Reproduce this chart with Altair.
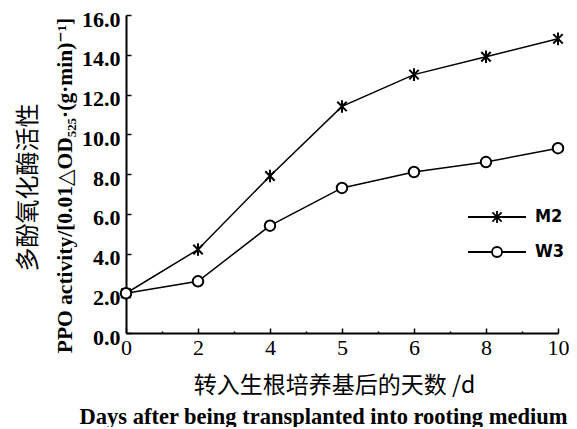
import json
import altair as alt
import pandas as pd

# ---- data ----
days = [0, 2, 4, 5, 6, 8, 10]
series_names = ["M2", "W3"]
m2_values = [2.0, 4.2, 7.9, 11.4, 13.0, 13.9, 14.8]
w3_values = [2.0, 2.6, 5.4, 7.3, 8.1, 8.6, 9.3]
y_tick_values = [0, 2, 4, 6, 8, 10, 12, 14, 16]

x_title_cn = "转入生根培养基后的天数 /d"
x_title_en = "Days after being transplanted into rooting medium"
y_title_cn = "多酚氧化酶活性"
y_title_en = "PPO activity/[0.01△OD₅₂₅·(g·min)⁻¹]"

rows = []
for name, vals in zip(series_names, [m2_values, w3_values]):
    for i, (d, v) in enumerate(zip(days, vals)):
        rows.append({"idx": i, "day": d, "value": v, "series": name})
df = pd.DataFrame(rows)

W, H = 432, 318
day_labels = json.dumps([str(d) for d in days])
x_positions = list(range(len(days)))
x_minor = [i * 0.5 for i in range(2 * (len(days) - 1) + 1)]

ASTERISK = "M0,-1.2L0,1.2M-0.9,-0.9L0.9,0.9M-0.9,0.9L0.9,-0.9"
LEG_M2 = "M-2.9,0L2.9,0M0,-0.6L0,0.6M-0.46,-0.46L0.46,0.46M-0.46,0.46L0.46,-0.46"
LEG_W3 = "M-2.9,0L-0.5,0M0.5,0L2.9,0M-0.5,0A0.5,0.5,0,1,1,0.5,0A0.5,0.5,0,1,1,-0.5,0"

SERIF = "Liberation Serif, DejaVu Serif"
CJK = "Noto Sans CJK SC"

x_scale = alt.Scale(domain=[0, len(days) - 1], nice=False, zero=False)
y_scale = alt.Scale(domain=[0, 16], nice=False)

# main axes (labels, domain lines, titles)
x_axis_main = alt.Axis(
    orient="bottom", values=x_positions, ticks=False, domain=True,
    domainColor="black", domainWidth=2,
    labelExpr=f"{day_labels}[datum.value]", labelFlush=False,
    labelFont=SERIF, labelFontSize=22, labelColor="black", labelPadding=4,
    title=x_title_cn, titleFont=CJK, titleFontSize=23, titleFontWeight="normal",
    titleColor="black", titleX=208, titleY=52, titleAlign="center",
    titleBaseline="middle", grid=False,
)
y_axis_main = alt.Axis(
    orient="left", values=y_tick_values, ticks=False, domain=True,
    domainColor="black", domainWidth=2, format=".1f", labelFlush=False,
    labelFont=SERIF, labelFontSize=22, labelFontWeight="bold",
    labelColor="black", labelPadding=6, labelOffset=4,
    title=y_title_en, titleFont=SERIF, titleFontSize=21.5, titleFontWeight="bold",
    titleColor="black", titleAngle=270, titleX=-55, titleY=170,
    titleAlign="center", titleBaseline="alphabetic", grid=False,
)

# inward tick axes
x_axis_ticks = alt.Axis(
    orient="top", offset=-H, values=x_minor, domain=False, labels=False,
    ticks=True, tickColor="black", tickWidth=1.5,
    tickSize={"condition": {"test": "datum.value % 1 === 0", "value": 5}, "value": 2},
    title=x_title_en, titleFont=SERIF, titleFontSize=22.5, titleFontWeight="bold",
    titleColor="black", titleX=197, titleY=90, titleAlign="center",
    titleBaseline="alphabetic", grid=False,
)
y_axis_ticks = alt.Axis(
    orient="right", offset=-W, values=y_tick_values, domain=False, labels=False,
    ticks=True, tickColor="black", tickWidth=1.5, tickSize=5,
    title=y_title_cn, titleFont=CJK, titleFontSize=24, titleFontWeight="normal",
    titleColor="black", titleAngle=270, titleX=-98, titleY=172,
    titleAlign="center", titleBaseline="middle", grid=False,
)

lines = alt.Chart(df).mark_line(color="black", strokeWidth=1.5).encode(
    x=alt.X("idx:Q", scale=x_scale, axis=x_axis_main),
    y=alt.Y("value:Q", scale=y_scale, axis=y_axis_main),
    detail="series:N",
)

points = alt.Chart(df).mark_point(
    fill="white", stroke="black", strokeWidth=2, opacity=1, size=110
).encode(
    x=alt.X("idx:Q", scale=x_scale, axis=x_axis_ticks),
    y=alt.Y("value:Q", scale=y_scale, axis=y_axis_ticks),
    shape=alt.Shape("series:N",
                    scale=alt.Scale(domain=series_names, range=[ASTERISK, "circle"]),
                    legend=None),
)

legend = alt.Legend(
    title=None, orient="none", legendX=360, legendY=191, padding=0,
    symbolSize=400, labelOffset=27, rowPadding=14,
    labelFont="Liberation Sans Narrow, DejaVu Sans Condensed",
    labelFontWeight="bold", labelFontSize=18, labelColor="black",
    symbolStrokeWidth=1.8,
)

# carries only the legend: its rows are filtered out, the shape domain is explicit
legend_layer = alt.Chart(df).transform_filter("false").mark_point(
    filled=False, color="black", opacity=1
).encode(
    x=alt.X("idx:Q", scale=x_scale, axis=None),
    y=alt.Y("value:Q", scale=y_scale, axis=None),
    shape=alt.Shape("series:N",
                    scale=alt.Scale(domain=series_names, range=[LEG_M2, LEG_W3]),
                    legend=legend),
)

chart = alt.layer(lines, points, legend_layer).resolve_axis(
    x="independent", y="independent"
).resolve_scale(shape="independent").properties(
    width=W, height=H,
    autosize=alt.AutoSizeParams(type="none"),
    padding={"left": 118, "top": 7, "right": 11, "bottom": 94},
    background="white",
).configure_view(stroke=None)

chart.save("out.html", embed_options={"renderer": "svg", "actions": False})
